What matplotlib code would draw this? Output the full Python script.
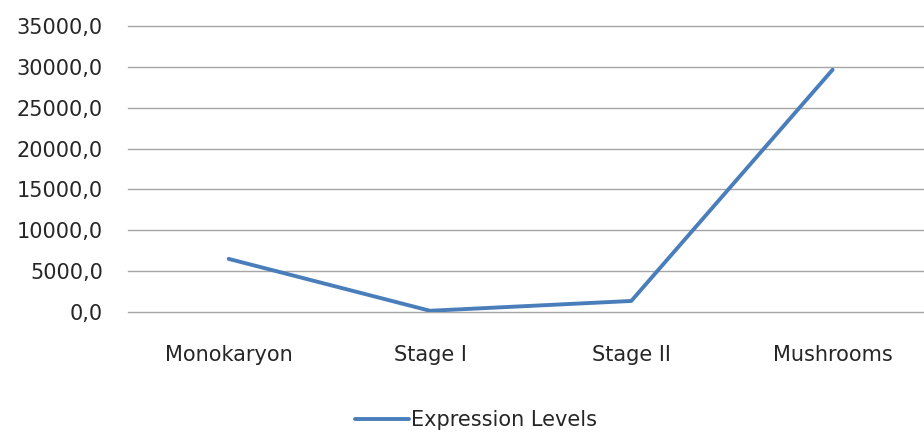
import matplotlib
matplotlib.use("Agg")
import matplotlib.pyplot as plt
from matplotlib.ticker import FuncFormatter

categories = ["Monokaryon", "Stage I", "Stage II", "Mushrooms"]
expression_levels = [6500, 150, 1350, 29650]
y_ticks = [0, 5000, 10000, 15000, 20000, 25000, 30000, 35000]

plt.rcParams['font.family'] = ['DejaVu Sans']

fig = plt.figure(figsize=(9.24, 4.32), dpi=100)
ax = fig.add_axes([128 / 924, 1 - 312 / 432, 1 - 128 / 924 + 0.01, 286 / 432])

x = range(len(categories))
line, = ax.plot(x, expression_levels, color="#4a7ebb", linewidth=2.8,
                solid_capstyle="round", label="Expression Levels", zorder=3)

ax.set_ylim(0, 35000)
ax.set_xlim(-0.5, 3.5)
ax.set_yticks(y_ticks)
ax.yaxis.set_major_formatter(FuncFormatter(lambda v, p: f"{v:.1f}".replace(".", ",")))
ax.set_xticks(list(x))
ax.set_xticklabels(categories)
ax.grid(axis="y", color="#a6a6a6", linewidth=1.0)
ax.set_axisbelow(True)
for gl in ax.get_ygridlines():
    gl.set_clip_on(False)
for s in ax.spines.values():
    s.set_visible(False)
ax.tick_params(axis="y", length=0, pad=18, labelsize=15, labelcolor="#262626")
ax.tick_params(axis="x", length=0, pad=24, labelsize=15, labelcolor="#262626")

fig.legend(handles=[line], loc="center", bbox_to_anchor=(476 / 924, 1 - 420 / 432),
           frameon=False, fontsize=15, handlelength=2.6, handletextpad=0.1,
           labelcolor="#262626")

fig.savefig("out.png", dpi=100)
